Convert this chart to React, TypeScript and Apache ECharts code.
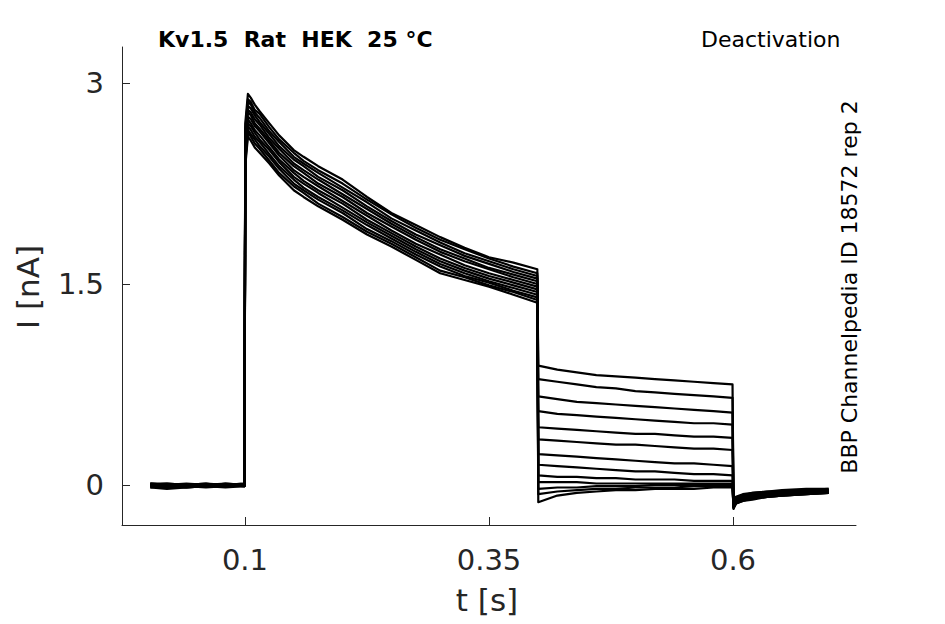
import React, { useEffect, useRef } from "react";
import * as echarts from "echarts";

const X_TICKS = [0.1, 0.35, 0.6];
const Y_TICKS = [0, 1.5, 3];

const BASE_T = [0.003, 0.02, 0.04, 0.06, 0.08, 0.0995];
const ACT_T = [0.1003, 0.103, 0.106, 0.11, 0.115, 0.125, 0.135, 0.15, 0.16, 0.175, 0.2, 0.225, 0.25, 0.275, 0.3, 0.325, 0.35, 0.375, 0.3995];
const TAIL_T = [0.4005, 0.42, 0.44, 0.46, 0.48, 0.5, 0.52, 0.54, 0.56, 0.58, 0.5995];
const POST_T = [0.6005, 0.603, 0.61, 0.62, 0.635, 0.65, 0.675, 0.698];

const BASE_V = [
  [0.01, 0.0, -0.01, 0.0, 0.0, 0.0],
  [0.0, -0.01, 0.0, 0.01, -0.01, 0.0],
  [-0.01, -0.02, -0.01, 0.0, 0.0, -0.01],
  [0.01, 0.01, 0.0, -0.01, 0.0, 0.01],
  [-0.02, -0.01, -0.02, -0.01, -0.01, 0.0],
  [0.0, 0.0, 0.01, 0.0, 0.01, 0.0],
  [-0.01, 0.0, -0.01, -0.02, -0.01, -0.01],
  [0.0, -0.02, -0.01, 0.0, 0.0, 0.01],
  [0.01, 0.0, 0.0, 0.01, 0.0, -0.01],
  [-0.02, -0.03, -0.02, -0.01, -0.02, -0.01],
  [0.0, 0.01, 0.0, -0.01, 0.01, 0.0],
  [-0.01, -0.01, -0.02, -0.01, 0.0, -0.01],
  [0.0, -0.01, 0.0, 0.0, -0.01, 0.0],
];

const ACT_V = [
  [2.7, 2.92, 2.89, 2.84, 2.79, 2.7, 2.61, 2.5, 2.45, 2.38, 2.28, 2.15, 2.03, 1.94, 1.85, 1.77, 1.7, 1.66, 1.61],
  [2.66, 2.88, 2.86, 2.8, 2.77, 2.67, 2.58, 2.48, 2.42, 2.35, 2.25, 2.13, 2.02, 1.92, 1.83, 1.76, 1.69, 1.63, 1.58],
  [2.64, 2.86, 2.84, 2.78, 2.74, 2.64, 2.56, 2.45, 2.4, 2.33, 2.22, 2.11, 1.99, 1.9, 1.81, 1.73, 1.67, 1.61, 1.56],
  [2.61, 2.83, 2.81, 2.76, 2.71, 2.62, 2.53, 2.43, 2.38, 2.3, 2.2, 2.08, 1.97, 1.87, 1.79, 1.71, 1.65, 1.59, 1.54],
  [2.58, 2.8, 2.78, 2.73, 2.69, 2.59, 2.51, 2.4, 2.35, 2.28, 2.17, 2.06, 1.95, 1.85, 1.76, 1.69, 1.62, 1.57, 1.52],
  [2.56, 2.78, 2.76, 2.7, 2.66, 2.57, 2.48, 2.38, 2.33, 2.25, 2.15, 2.03, 1.93, 1.83, 1.74, 1.67, 1.61, 1.55, 1.5],
  [2.53, 2.75, 2.73, 2.68, 2.64, 2.55, 2.46, 2.35, 2.3, 2.23, 2.12, 2.01, 1.9, 1.8, 1.72, 1.64, 1.58, 1.53, 1.48],
  [2.51, 2.73, 2.7, 2.65, 2.61, 2.52, 2.43, 2.33, 2.27, 2.2, 2.1, 1.98, 1.88, 1.78, 1.69, 1.62, 1.56, 1.51, 1.46],
  [2.48, 2.7, 2.68, 2.63, 2.58, 2.5, 2.41, 2.3, 2.25, 2.18, 2.07, 1.96, 1.86, 1.76, 1.67, 1.6, 1.54, 1.49, 1.44],
  [2.46, 2.68, 2.65, 2.6, 2.56, 2.47, 2.38, 2.28, 2.22, 2.15, 2.05, 1.94, 1.84, 1.74, 1.65, 1.58, 1.52, 1.47, 1.42],
  [2.43, 2.65, 2.62, 2.58, 2.53, 2.45, 2.36, 2.25, 2.2, 2.13, 2.03, 1.91, 1.82, 1.72, 1.63, 1.56, 1.51, 1.45, 1.4],
  [2.41, 2.63, 2.6, 2.55, 2.51, 2.42, 2.33, 2.23, 2.18, 2.1, 2.0, 1.89, 1.8, 1.7, 1.6, 1.55, 1.49, 1.44, 1.38],
  [2.38, 2.6, 2.57, 2.52, 2.48, 2.4, 2.31, 2.2, 2.15, 2.08, 1.98, 1.87, 1.78, 1.68, 1.58, 1.53, 1.48, 1.42, 1.36],
];

const TAIL_V = [
  [0.89, 0.86, 0.84, 0.82, 0.81, 0.8, 0.79, 0.78, 0.77, 0.76, 0.75],
  [0.79, 0.77, 0.75, 0.73, 0.72, 0.7, 0.69, 0.68, 0.67, 0.66, 0.65],
  [0.66, 0.64, 0.62, 0.61, 0.6, 0.59, 0.58, 0.57, 0.56, 0.55, 0.54],
  [0.55, 0.53, 0.52, 0.51, 0.5, 0.49, 0.48, 0.47, 0.46, 0.46, 0.45],
  [0.43, 0.42, 0.41, 0.4, 0.39, 0.38, 0.38, 0.37, 0.36, 0.36, 0.35],
  [0.34, 0.33, 0.32, 0.31, 0.3, 0.3, 0.29, 0.28, 0.27, 0.27, 0.26],
  [0.23, 0.22, 0.21, 0.2, 0.19, 0.18, 0.17, 0.16, 0.16, 0.15, 0.14],
  [0.15, 0.14, 0.13, 0.12, 0.11, 0.1, 0.1, 0.09, 0.08, 0.08, 0.07],
  [0.07, 0.06, 0.06, 0.05, 0.05, 0.04, 0.04, 0.04, 0.03, 0.03, 0.03],
  [0.02, 0.02, 0.02, 0.01, 0.01, 0.01, 0.01, 0.01, 0.01, 0.01, 0.01],
  [-0.03, -0.02, -0.02, -0.01, -0.01, -0.01, 0.0, 0.0, 0.0, 0.0, 0.0],
  [-0.07, -0.05, -0.04, -0.03, -0.03, -0.02, -0.02, -0.02, -0.01, -0.01, -0.01],
  [-0.13, -0.08, -0.06, -0.05, -0.04, -0.04, -0.03, -0.03, -0.03, -0.02, -0.02],
];

const POST_V = [
  [-0.12, -0.09, -0.07, -0.06, -0.05, -0.04, -0.03, -0.03],
  [-0.13, -0.1, -0.08, -0.06, -0.05, -0.05, -0.04, -0.03],
  [-0.13, -0.1, -0.08, -0.07, -0.06, -0.05, -0.04, -0.04],
  [-0.14, -0.11, -0.09, -0.07, -0.06, -0.05, -0.05, -0.04],
  [-0.14, -0.11, -0.09, -0.08, -0.07, -0.06, -0.05, -0.04],
  [-0.15, -0.12, -0.1, -0.08, -0.07, -0.06, -0.05, -0.05],
  [-0.15, -0.12, -0.1, -0.09, -0.07, -0.06, -0.06, -0.05],
  [-0.16, -0.13, -0.1, -0.09, -0.08, -0.07, -0.06, -0.05],
  [-0.16, -0.13, -0.11, -0.09, -0.08, -0.07, -0.06, -0.05],
  [-0.17, -0.13, -0.11, -0.1, -0.08, -0.07, -0.06, -0.06],
  [-0.17, -0.14, -0.11, -0.1, -0.09, -0.08, -0.07, -0.06],
  [-0.17, -0.14, -0.12, -0.1, -0.09, -0.08, -0.07, -0.06],
  [-0.18, -0.14, -0.12, -0.11, -0.09, -0.08, -0.07, -0.06],
];

const FONT = "DejaVu Sans";
const TEXT_COLOR = "#262626";

export default function App() {
  const ref = useRef<HTMLDivElement>(null);
  useEffect(() => {
    if (!ref.current) return;
    const chart = echarts.init(ref.current, null, { renderer: "svg" });
    const zip = (t: number[], v: number[]) => t.map((x, i) => [x, v[i]]);
    const series = BASE_V.map((_, k) => ({
      type: "line",
      symbol: "none",
      silent: true,
      lineStyle: { color: "#000", width: 2.2, join: "round" },
      data: [
        ...zip(BASE_T, BASE_V[k]),
        ...zip(ACT_T, ACT_V[k]),
        ...zip(TAIL_T, TAIL_V[k]),
        ...zip(POST_T, POST_V[k]),
      ],
    }));
    chart.setOption({
      animation: false,
      backgroundColor: "#fff",
      grid: { left: 122, right: 89, top: 47, bottom: 99, containLabel: false },
      xAxis: {
        type: "value",
        min: -0.026,
        max: 0.726,
        axisLine: { onZero: false, lineStyle: { color: TEXT_COLOR, width: 1 } },
        axisTick: { show: true, inside: true, length: 8, customValues: X_TICKS, lineStyle: { color: TEXT_COLOR } },
        axisLabel: {
          customValues: X_TICKS,
          margin: 20,
          fontFamily: FONT,
          fontSize: 29,
          color: TEXT_COLOR,
          formatter: (v: number) => String(v),
        },
        splitLine: { show: false },
      },
      yAxis: {
        type: "value",
        min: -0.3,
        max: 3.27,
        axisLine: { show: true, onZero: false, lineStyle: { color: TEXT_COLOR, width: 1 } },
        axisTick: { show: true, inside: true, length: 8, customValues: Y_TICKS, lineStyle: { color: TEXT_COLOR } },
        axisLabel: {
          customValues: Y_TICKS,
          margin: 18,
          fontFamily: FONT,
          fontSize: 29,
          color: TEXT_COLOR,
          formatter: (v: number) => String(v),
        },
        splitLine: { show: false },
      },
      graphic: [
        {
          type: "text",
          x: 158,
          y: 39,
          style: {
            text: "Kv1.5  Rat  HEK  25 °C",
            font: `bold 22px "${FONT}"`,
            fill: "#000",
            verticalAlign: "middle",
            align: "left",
          },
        },
        {
          type: "text",
          x: 701,
          y: 39,
          style: {
            text: "Deactivation",
            font: `22px "${FONT}"`,
            fill: "#000",
            verticalAlign: "middle",
            align: "left",
          },
        },
        {
          type: "text",
          x: 849,
          y: 287,
          rotation: Math.PI / 2,
          style: {
            text: "BBP Channelpedia ID 18572 rep 2",
            font: `22px "${FONT}"`,
            fill: "#000",
            verticalAlign: "middle",
            align: "center",
          },
        },
        {
          type: "text",
          x: 487,
          y: 600,
          style: {
            text: "t [s]",
            font: `31px "${FONT}"`,
            fill: TEXT_COLOR,
            verticalAlign: "middle",
            align: "center",
          },
        },
        {
          type: "text",
          x: 28,
          y: 287,
          rotation: Math.PI / 2,
          style: {
            text: "I [nA]",
            font: `31px "${FONT}"`,
            fill: TEXT_COLOR,
            verticalAlign: "middle",
            align: "center",
          },
        },
      ],
      series,
    });
    return () => chart.dispose();
  }, []);
  return (
    <div
      ref={ref}
      style={{ position: "fixed", left: 0, top: 0, width: 945, height: 624, background: "#fff" }}
    />
  );
}
